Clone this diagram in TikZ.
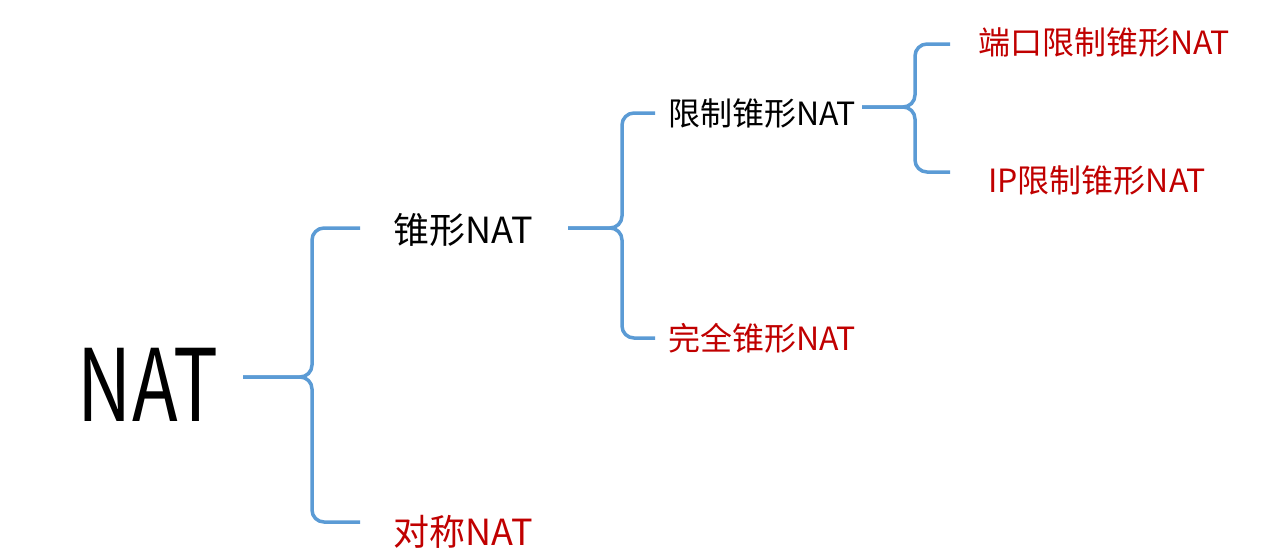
\documentclass[tikz,border=0pt]{standalone}
\usepackage{fontspec}
\setmainfont{Noto Sans CJK SC}
\begin{document}
\begin{tikzpicture}[x=1pt,y=-1pt,
  br/.style={draw={rgb,255:red,91;green,155;blue,213},line width=3.5pt},
  blk/.style={font=\fontsize{32}{32}\selectfont,inner sep=0pt},
  red/.style={blk,text={rgb,255:red,192;green,0;blue,0}}]
\useasboundingbox (0,0) rectangle (1280,558);
\node[inner sep=0pt,font=\fontsize{100}{100}\selectfont,xscale=0.75] (nat) at (148,385) {NAT};
\node[blk,font=\fontsize{36}{36}\selectfont] (zx) at (463,230) {锥形NAT};
\node[red,font=\fontsize{36}{36}\selectfont] (dc) at (463,532) {对称NAT};
\node[blk] (xz) at (762,113) {限制锥形NAT};
\node[red] (wq) at (762,338) {完全锥形NAT};
\node[red] (dk) at (1104,42) {端口限制锥形NAT};
\node[red] (ip) at (1097,180) {IP限制锥形NAT};
\def\brace#1#2#3#4#5#6{%
 \draw[br,rounded corners=12pt] (#6,#4) -- (#3,#4) -- (#3,#2) -- (#1,#2);
 \draw[br,rounded corners=12pt] (#6,#5) -- (#3,#5) -- (#3,#2) -- (#1,#2);}
\brace{243}{377}{312}{228}{522}{360}
\brace{568}{228}{622}{113}{338}{655}
\brace{862}{107}{915}{44}{172}{950}
\end{tikzpicture}
\end{document}
